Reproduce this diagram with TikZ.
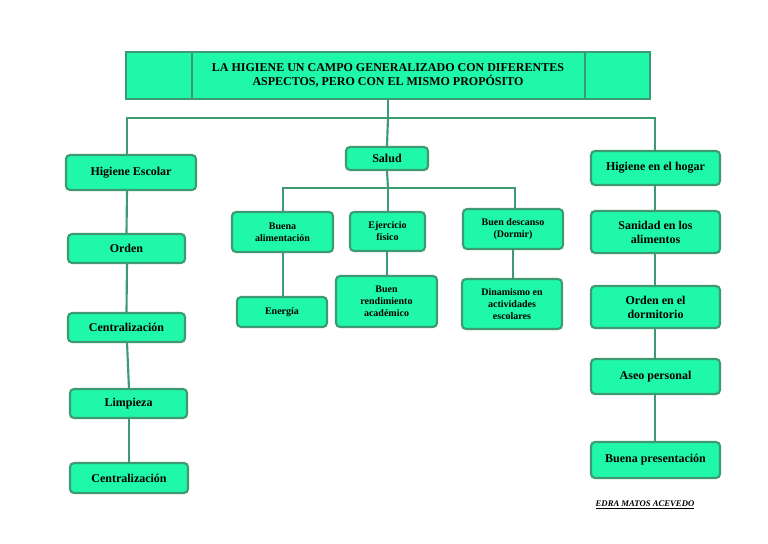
\documentclass[tikz,border=0pt]{standalone}
\usepackage{fontspec}
\setmainfont{Liberation Serif}
\definecolor{fillg}{HTML}{1EF8A8}
\definecolor{lineg}{HTML}{3E9A72}
\begin{document}
\begin{tikzpicture}[x=0.75pt,y=-0.75pt,
  box/.style={draw=lineg,line width=1.6pt,fill=fillg,rounded corners=3pt,font=\bfseries\fontsize{9}{10.5}\selectfont,align=center,inner sep=0pt},
  sbox/.style={box,font=\bfseries\fontsize{7.5}{9}\selectfont},
  conn/.style={draw=lineg,line width=1.6pt}]
\useasboundingbox (0,0) rectangle (768,543);
\newcommand\bx[6]{\node[#1,minimum width=#4*0.75pt-#2*0.75pt,minimum height=#5*0.75pt-#3*0.75pt] (#6) at ({(#2+#4)/2},{(#3+#5)/2})}
% title
\node[draw=lineg,line width=1.8pt,fill=fillg,minimum width=524*0.75pt,minimum height=47*0.75pt] (t) at (388,75.5) {};
\draw[lineg,line width=1.6pt] (192,52) -- (192,99) (585,52) -- (585,99);
\node[font=\bfseries\fontsize{9}{10.5}\selectfont,align=center] at (388,75.5) {LA HIGIENE UN CAMPO GENERALIZADO CON DIFERENTES\\ASPECTOS, PERO CON EL MISMO PROPÓSITO};
\bx{box}{66}{155}{196}{190}{he} {Higiene Escolar};
\bx{box}{346}{147}{428}{170}{sa} {Salud};
\bx{box}{591}{151}{720}{185}{hh} {Higiene en el hogar};
\bx{box}{68}{234}{185}{263}{l1} {Orden};
\bx{box}{68}{313}{185}{342}{l2} {Centralización};
\bx{box}{70}{389}{187}{418}{l3} {Limpieza};
\bx{box}{70}{463}{188}{493}{l4} {Centralización};
\bx{sbox}{232}{212}{333}{252}{m1} {Buena\\alimentación};
\bx{sbox}{350}{212}{425}{251}{m2} {Ejercicio\\físico};
\bx{sbox}{463}{209}{563}{249}{m3} {Buen descanso\\(Dormir)};
\bx{sbox}{237}{297}{327}{327}{n1} {Energía};
\bx{sbox}{336}{276}{437}{327}{n2} {Buen\\rendimiento\\académico};
\bx{sbox}{462}{279}{562}{329}{n3} {Dinamismo en\\actividades\\escolares};
\bx{box}{591}{211}{720}{253}{r1} {Sanidad en los\\alimentos};
\bx{box}{591}{286}{720}{328}{r2} {Orden en el\\dormitorio};
\bx{box}{591}{359}{720}{394}{r3} {Aseo personal};
\bx{box}{591}{442}{720}{478}{r4} {Buena presentación};
\node[font=\bfseries\itshape\fontsize{6.5}{8}\selectfont] (au) at (645,505) {\underline{EDRA MATOS ACEVEDO}};
% connectors
\begin{scope}[on background layer/.style={}]
\draw[conn] (t.south) -- (388,118) coordinate (c0);
\draw[conn] (127,155) |- (c0) -| (655,151);
\draw[conn] (c0) -- (sa.north);
\draw[conn] (127,190) -- (l1.north);
\draw[conn] (127,263) -- (l2.north);
\draw[conn] (127,342) -- (129,389);
\draw[conn] (129,418) -- (l4.north);
\draw[conn] (sa.south) -- (388,188) coordinate (c1);
\draw[conn] (283,212) |- (c1) -| (515,209);
\draw[conn] (c1) -- (388,212);
\draw[conn] (283,252) -- (283,297);
\draw[conn] (387,251) -- (387,276);
\draw[conn] (513,249) -- (513,279);
\draw[conn] (655,185) -- (655,211);
\draw[conn] (655,253) -- (655,286);
\draw[conn] (655,328) -- (655,359);
\draw[conn] (655,394) -- (655,442);
\end{scope}
\end{tikzpicture}
\end{document}
